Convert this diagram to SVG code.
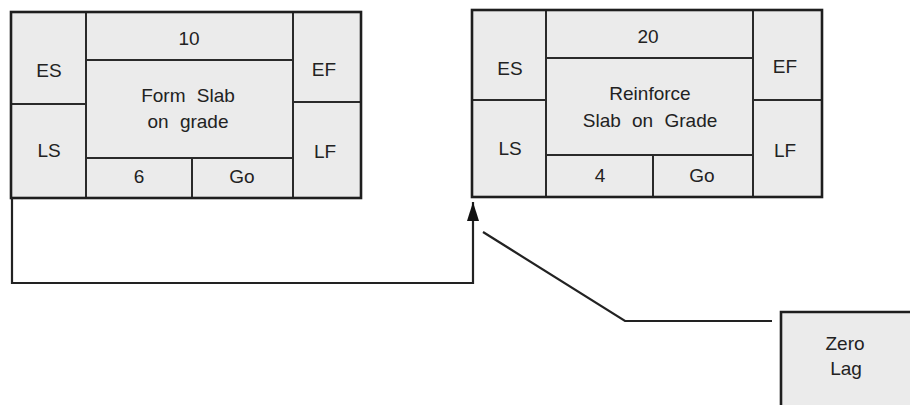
<svg xmlns="http://www.w3.org/2000/svg" width="910" height="405" viewBox="0 0 910 405">
<style>
  .cell { fill: #ebebeb; stroke: #2a2a2a; stroke-width: 2; }
  .outer { fill: none; stroke: #1e1e1e; stroke-width: 2.6; }
  .div { stroke: #2a2a2a; stroke-width: 2; fill: none; }
  .t { font-family: "Liberation Sans", Arial, sans-serif; font-size: 19px; fill: #222; text-anchor: middle; word-spacing: 6px; }
  .conn { stroke: #222; stroke-width: 2.2; fill: none; }
</style>
<defs>
  <marker id="arrow" markerUnits="userSpaceOnUse" markerWidth="20" markerHeight="14" refX="19" refY="7" orient="auto" viewBox="0 0 20 14">
    <polygon points="0,1 19,7 0,13" fill="#111"/>
  </marker>
</defs>
<rect width="910" height="405" fill="#fff"/>

<g id="node-form-slab">
  <rect class="cell" x="11" y="12" width="350" height="186"/>
  <line class="div" x1="86" y1="12" x2="86" y2="198"/>
  <line class="div" x1="293" y1="12" x2="293" y2="198"/>
  <line class="div" x1="11" y1="104" x2="86" y2="104"/>
  <line class="div" x1="293" y1="102" x2="361" y2="102"/>
  <line class="div" x1="86" y1="60" x2="293" y2="60"/>
  <line class="div" x1="86" y1="158" x2="293" y2="158"/>
  <line class="div" x1="192" y1="158" x2="192" y2="198"/>
  <rect class="outer" x="11" y="12" width="350" height="186"/>
  <text class="t" x="189" y="45">10</text>
  <text class="t" x="49" y="77">ES</text>
  <text class="t" x="49" y="157">LS</text>
  <text class="t" x="324" y="76">EF</text>
  <text class="t" x="325" y="158">LF</text>
  <text class="t" x="188" y="102">Form Slab</text>
  <text class="t" x="188" y="128">on grade</text>
  <text class="t" x="139" y="183">6</text>
  <text class="t" x="242" y="183">Go</text>
</g>

<g id="node-reinforce-slab">
  <rect class="cell" x="472" y="10" width="350" height="187"/>
  <line class="div" x1="546" y1="10" x2="546" y2="197"/>
  <line class="div" x1="753" y1="10" x2="753" y2="197"/>
  <line class="div" x1="472" y1="100" x2="546" y2="100"/>
  <line class="div" x1="753" y1="100" x2="822" y2="100"/>
  <line class="div" x1="546" y1="58" x2="753" y2="58"/>
  <line class="div" x1="546" y1="155" x2="753" y2="155"/>
  <line class="div" x1="653" y1="155" x2="653" y2="197"/>
  <rect class="outer" x="472" y="10" width="350" height="187"/>
  <text class="t" x="648" y="43">20</text>
  <text class="t" x="510" y="75">ES</text>
  <text class="t" x="510" y="155">LS</text>
  <text class="t" x="785" y="73">EF</text>
  <text class="t" x="785" y="157">LF</text>
  <text class="t" x="650" y="100">Reinforce</text>
  <text class="t" x="650" y="127">Slab on Grade</text>
  <text class="t" x="600" y="182">4</text>
  <text class="t" x="702" y="182">Go</text>
</g>

<g id="node-zero-lag">
  <rect class="cell" x="781" y="312" width="140" height="100"/>
  <path class="outer" d="M 781 412 V 312 H 912"/>
  <text class="t" x="845" y="350">Zero</text>
  <text class="t" x="846" y="375">Lag</text>
</g>

<g id="connectors">
  <path class="conn" d="M 12 198 V 283 H 473 V 202" marker-end="url(#arrow)"/>
  <path class="conn" d="M 483 232 L 625 321 H 772"/>
</g>
</svg>
